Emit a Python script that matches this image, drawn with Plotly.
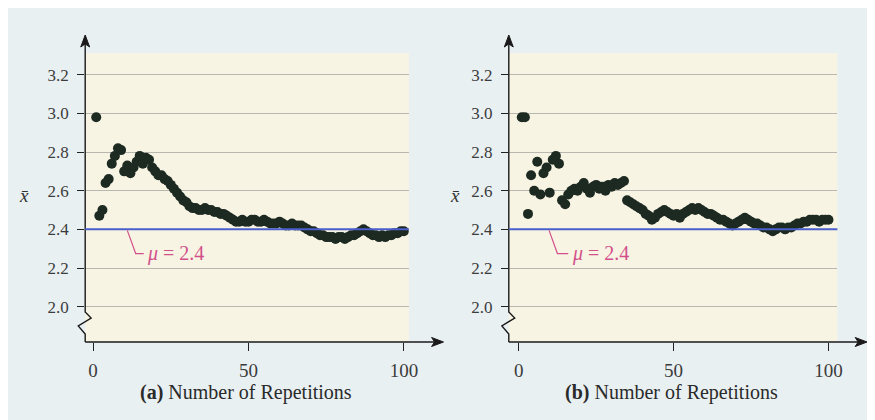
import plotly.graph_objects as go

# ---------------- data ----------------
n_values = list(range(1, 101))
mu = 2.4
y_ticks = [2.0, 2.2, 2.4, 2.6, 2.8, 3.0, 3.2]
y_tick_text = ["2.0", "2.2", "2.4", "2.6", "2.8", "3.0", "3.2"]
x_ticks = [0, 50, 100]
x_tick_text = ["0", "50", "100"]

xbar_a = [2.98, 2.47, 2.50, 2.64, 2.66, 2.74, 2.78, 2.82, 2.81, 2.70,
          2.73, 2.69, 2.72, 2.75, 2.78, 2.74, 2.77, 2.76, 2.72, 2.70,
          2.68, 2.68, 2.66, 2.65, 2.63, 2.61, 2.59, 2.57, 2.55, 2.54,
          2.52, 2.51, 2.51, 2.50, 2.50, 2.51, 2.50, 2.50, 2.49, 2.49,
          2.48, 2.48, 2.47, 2.46, 2.45, 2.44, 2.44, 2.45, 2.44, 2.44,
          2.45, 2.45, 2.44, 2.44, 2.45, 2.44, 2.43, 2.43, 2.43, 2.44,
          2.43, 2.42, 2.42, 2.43, 2.42, 2.42, 2.42, 2.41, 2.40, 2.39,
          2.39, 2.38, 2.37, 2.37, 2.36, 2.36, 2.36, 2.35, 2.36, 2.36,
          2.35, 2.36, 2.37, 2.37, 2.38, 2.39, 2.40, 2.39, 2.38, 2.37,
          2.37, 2.36, 2.37, 2.36, 2.37, 2.37, 2.38, 2.38, 2.39, 2.39]

xbar_b = [2.98, 2.98, 2.48, 2.68, 2.60, 2.75, 2.58, 2.69, 2.72, 2.59,
          2.76, 2.78, 2.74, 2.55, 2.53, 2.58, 2.60, 2.61, 2.60, 2.62,
          2.64, 2.61, 2.59, 2.62, 2.63, 2.61, 2.62, 2.60, 2.63, 2.62,
          2.64, 2.63, 2.64, 2.65, 2.55, 2.54, 2.53, 2.52, 2.51, 2.50,
          2.48, 2.47, 2.45, 2.46, 2.48, 2.49, 2.50, 2.49, 2.48, 2.47,
          2.48, 2.46, 2.48, 2.49, 2.50, 2.51, 2.50, 2.51, 2.50, 2.49,
          2.48, 2.48, 2.47, 2.46, 2.45, 2.45, 2.44, 2.43, 2.42, 2.43,
          2.44, 2.45, 2.46, 2.45, 2.44, 2.43, 2.43, 2.42, 2.41, 2.41,
          2.40, 2.39, 2.40, 2.41, 2.41, 2.40, 2.41, 2.41, 2.42, 2.43,
          2.43, 2.44, 2.44, 2.45, 2.45, 2.45, 2.44, 2.45, 2.45, 2.45]

panel_titles = ["<b>(a)</b> Number of Repetitions", "<b>(b)</b> Number of Repetitions"]
mu_label = "<i>μ</i> = 2.4"
y_label = "<i>x̄</i>"

# ---------------- styling ----------------
W, H = 875, 420
PAPER = "#e9f0f2"
PLOT = "#f8f4e4"
DOT = "#1d2a22"
BLUE = "#4a5fcc"
PINK = "#d2508a"
SERIF = "Liberation Serif, Times New Roman, serif"


def fx(x):
    return x / W


def fy(y):
    return 1 - y / H


def ppath(points, close=False):
    s = "M " + " L ".join(f"{fx(x):.5f},{fy(y):.5f}" for x, y in points)
    return s + (" Z" if close else "")


panels = [
    dict(ax=78, right=405, x0=86, k=3.14, tip=440, xb_label=16, title_x=240),
    dict(ax=506, right=838, x0=516, k=3.13, tip=868, xb_label=452, title_x=670),
]
Y_TOP, Y_BOT = 45, 334
Y_32, Y_20 = 66.7, 298.7
k_y = (Y_20 - Y_32) / 1.2
y_range = [2.0 - (Y_BOT - Y_20) / k_y, 3.2 + (Y_32 - Y_TOP) / k_y]

fig = go.Figure()
series = [xbar_a, xbar_b]
shapes = []
annotations = []

for i, (p, ys) in enumerate(zip(panels, series)):
    sfx = "" if i == 0 else str(i + 1)
    xa, ya = "x" + sfx, "y" + sfx
    fig.add_trace(go.Scatter(
        x=n_values, y=ys, mode="markers", xaxis=xa, yaxis=ya,
        marker=dict(size=10, color=DOT, line=dict(width=0)),
        showlegend=False, hoverinfo="skip"))

    x_range = [(p["ax"] - p["x0"]) / p["k"], (p["right"] - p["x0"]) / p["k"]]
    common_tick = dict(ticks="outside", tickcolor="#222", tickwidth=1.2,
                       showline=False, zeroline=False)
    fig.layout["xaxis" + sfx] = dict(
        domain=[fx(p["ax"]), fx(p["right"])], range=x_range, anchor=ya,
        tickvals=x_ticks, ticktext=x_tick_text, ticklen=8, showgrid=False,
        tickfont=dict(family=SERIF, size=19, color="#3c3c3c"),
        ticklabelstandoff=3, **common_tick)
    fig.layout["yaxis" + sfx] = dict(
        domain=[fy(Y_BOT), fy(Y_TOP)], range=y_range, anchor=xa,
        tickvals=y_ticks, ticktext=y_tick_text, ticklen=7,
        showgrid=True, gridcolor="#b8b8b0", gridwidth=1,
        tickfont=dict(family=SERIF, size=17, color="#3c3c3c"),
        ticklabelstandoff=5, **common_tick)

    ax = p["ax"]
    shapes.append(dict(type="path", xref="paper", yref="paper",
                       path=ppath([(ax, 32), (ax, 304), (ax + 6, 310), (ax - 7, 318),
                                   (ax, 326), (ax, Y_BOT)]),
                       line=dict(color="#1a1a1a", width=1.4)))
    shapes.append(dict(type="path", xref="paper", yref="paper",
                       path=ppath([(ax, 27), (ax - 4.5, 39), (ax, 36), (ax + 4.5, 39)], close=True),
                       fillcolor="#1a1a1a", line=dict(color="#1a1a1a", width=1)))
    shapes.append(dict(type="line", xref="paper", yref="paper",
                       x0=fx(ax), x1=fx(p["tip"] - 4), y0=fy(Y_BOT), y1=fy(Y_BOT),
                       line=dict(color="#1a1a1a", width=1.4)))
    tip = p["tip"]
    shapes.append(dict(type="path", xref="paper", yref="paper",
                       path=ppath([(tip, Y_BOT), (tip - 12, Y_BOT - 4.5), (tip - 9, Y_BOT),
                                   (tip - 12, Y_BOT + 4.5)], close=True),
                       fillcolor="#1a1a1a", line=dict(color="#1a1a1a", width=1)))
    shapes.append(dict(type="line", xref=xa + " domain", yref=ya,
                       x0=0, x1=1, y0=mu, y1=mu, line=dict(color=BLUE, width=2)))
    if i == 0:
        lx = [11.0, 13.7, 16.3]
    else:
        lx = [9.8, 12.5, 16.0]
    shapes.append(dict(type="path", xref=xa, yref=ya,
                       path=f"M {lx[0]},{mu - 0.005} L {lx[1]},{mu - 0.125} L {lx[2]},{mu - 0.125}",
                       line=dict(color=PINK, width=1.2)))
    annotations.append(dict(xref=xa, yref=ya, x=lx[2] + 0.5, y=mu - 0.125,
                            text=mu_label, showarrow=False, xanchor="left", yanchor="middle",
                            font=dict(family=SERIF, size=20, color=PINK)))
    annotations.append(dict(xref="paper", yref="paper", x=fx(p["xb_label"]), y=fy(187),
                            text=y_label, showarrow=False, xanchor="center", yanchor="middle",
                            font=dict(family=SERIF, size=19, color="#333")))
    annotations.append(dict(xref="paper", yref="paper", x=fx(p["title_x"]), y=fy(384),
                            text=panel_titles[i], showarrow=False, xanchor="center",
                            yanchor="middle", font=dict(family=SERIF, size=20, color="#2a2a2a")))

fig.update_layout(
    width=W, height=H, margin=dict(l=0, r=0, t=0, b=0),
    paper_bgcolor=PAPER, plot_bgcolor=PLOT,
    shapes=shapes, annotations=annotations, showlegend=False)

fig.write_html("out.html")
